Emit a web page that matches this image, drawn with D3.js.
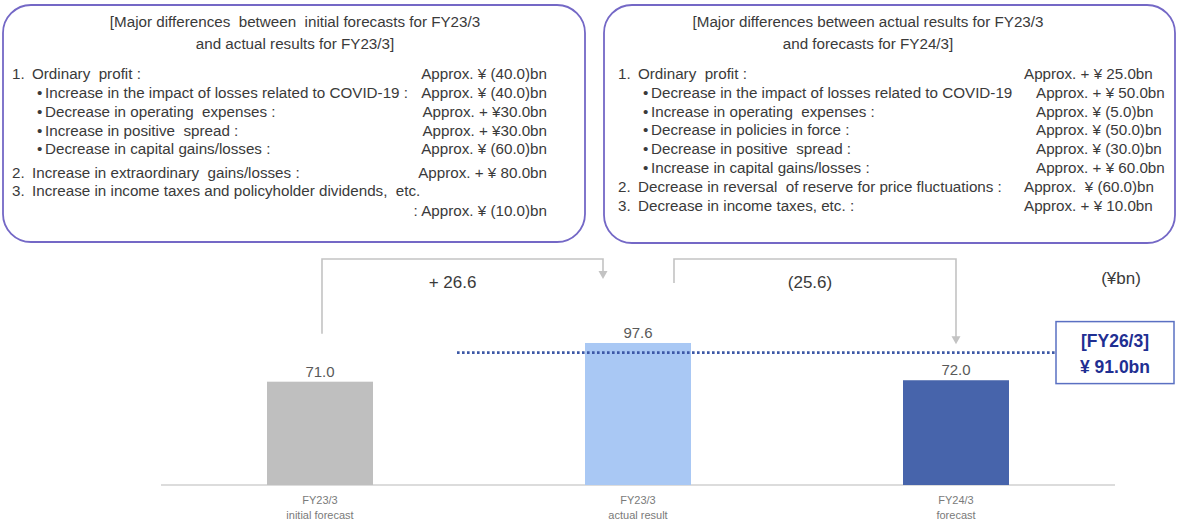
<!DOCTYPE html>
<html>
<head>
<meta charset="utf-8">
<script src="https://cdn.jsdelivr.net/npm/d3@7"></script>
<style>
  html, body { margin: 0; padding: 0; background: #ffffff; }
  svg { display: block; font-family: Arial, "Liberation Sans", sans-serif; }
</style>
</head>
<body>
<svg id="chart" width="1178" height="521"></svg>
<script>
// ---- Data ----
const categoryYears = ["FY23/3", "FY23/3", "FY24/3"];
const categoryNotes = ["initial forecast", "actual result", "forecast"];
const profitValues = [71.0, 97.6, 72.0];
const changeLabels = ["+ 26.6", "(25.6)"];
const unitLabel = "(¥bn)";
const targetValue = 91.0;
const targetLabels = ["[FY26/3]", "¥ 91.0bn"];

const leftTitle = [
  "[Major differences  between  initial forecasts for FY23/3",
  "and actual results for FY23/3]"
];
const leftKinds = ["num", "bullet", "bullet", "bullet", "bullet", "num", "num", "cont"];
const leftMarks = ["1.", "•", "•", "•", "•", "2.", "3.", ""];
const leftLabels = [
  "Ordinary  profit :",
  "Increase in the impact of losses related to COVID-19 :",
  "Decrease in operating  expenses :",
  "Increase in positive  spread :",
  "Decrease in capital gains/losses :",
  "Increase in extraordinary  gains/losses :",
  "Increase in income taxes and policyholder dividends,  etc.",
  ""
];
const leftAmounts = [
  "Approx. ¥ (40.0)bn",
  "Approx. ¥ (40.0)bn",
  "Approx. + ¥30.0bn",
  "Approx. + ¥30.0bn",
  "Approx. ¥ (60.0)bn",
  "Approx. + ¥ 80.0bn",
  "",
  ": Approx. ¥ (10.0)bn"
];

const rightTitle = [
  "[Major differences between actual results for FY23/3",
  "and forecasts for FY24/3]"
];
const rightKinds = ["num", "bullet", "bullet", "bullet", "bullet", "bullet", "num", "num"];
const rightMarks = ["1.", "•", "•", "•", "•", "•", "2.", "3."];
const rightLabels = [
  "Ordinary  profit :",
  "Decrease in the impact of losses related to COVID-19",
  "Increase in operating  expenses :",
  "Decrease in policies in force :",
  "Decrease in positive  spread :",
  "Increase in capital gains/losses :",
  "Decrease in reversal  of reserve for price fluctuations :",
  "Decrease in income taxes, etc. :"
];
const rightAmounts = [
  "Approx. + ¥ 25.0bn",
  "Approx. + ¥ 50.0bn",
  "Approx. ¥ (5.0)bn",
  "Approx. ¥ (50.0)bn",
  "Approx. ¥ (30.0)bn",
  "Approx. + ¥ 60.0bn",
  "Approx.  ¥ (60.0)bn",
  "Approx. + ¥ 10.0bn"
];

// ---- Styles ----
const textColor = "#3a3a3a";
const boxStroke = "#7468c6";
const barColors = ["#bfbfbf", "#a9c8f4", "#4764ab"];
const bracketColor = "#c3c3c3";
const targetColor = "#3d58a6";
const panelFont = 15.2;

const svg = d3.select("#chart");

// ---- Explanation panels ----
function drawPanel(cfg) {
  const g = svg.append("g");
  g.append("rect")
    .attr("x", cfg.x).attr("y", cfg.y)
    .attr("width", cfg.w).attr("height", cfg.h)
    .attr("rx", 28).attr("ry", 28)
    .attr("fill", "#ffffff")
    .attr("stroke", boxStroke)
    .attr("stroke-width", 1.8);

  g.selectAll("text.title")
    .data(cfg.title)
    .join("text")
    .attr("class", "title")
    .attr("x", cfg.titleX)
    .attr("y", (d, i) => cfg.titleY + i * 22)
    .attr("text-anchor", "middle")
    .attr("font-size", panelFont)
    .attr("fill", textColor)
    .style("white-space", "pre")
    .text(d => d);

  const rows = cfg.labels.map((label, i) => ({
    kind: cfg.kinds[i], mark: cfg.marks[i], label, amount: cfg.amounts[i], y: cfg.rowY[i]
  }));

  const row = g.selectAll("g.row").data(rows).join("g").attr("class", "row");

  row.append("text")
    .attr("x", d => d.kind === "num" ? cfg.textX : cfg.textX + 25)
    .attr("y", d => d.y + 5)
    .attr("font-size", panelFont)
    .attr("fill", textColor)
    .text(d => d.mark);

  row.append("text")
    .attr("x", d => d.kind === "num" ? cfg.textX + 20 : cfg.textX + 33)
    .attr("y", d => d.y + 5)
    .attr("font-size", panelFont)
    .attr("fill", textColor)
    .style("white-space", "pre")
    .text(d => d.label);

  row.append("text")
    .attr("x", d => cfg.amountX(d.kind))
    .attr("y", d => d.y + 5)
    .attr("text-anchor", cfg.amountAnchor)
    .attr("font-size", panelFont)
    .attr("fill", textColor)
    .style("white-space", "pre")
    .text(d => d.amount);
}

drawPanel({
  x: 3, y: 5, w: 582, h: 237,
  titleX: 295, titleY: 27,
  textX: 12,
  rowY: [74, 92.7, 111.7, 130.7, 149.3, 172.7, 190.7, 211],
  title: leftTitle, kinds: leftKinds, marks: leftMarks, labels: leftLabels, amounts: leftAmounts,
  amountAnchor: "end",
  amountX: () => 547
});

drawPanel({
  x: 604, y: 5, w: 571, h: 238,
  titleX: 868, titleY: 27,
  textX: 618,
  rowY: [74, 92.5, 111.5, 130, 148.5, 167.5, 187, 206],
  title: rightTitle, kinds: rightKinds, marks: rightMarks, labels: rightLabels, amounts: rightAmounts,
  amountAnchor: "start",
  amountX: k => k === "num" ? 1024 : 1036
});

// ---- Bar chart ----
const x = d3.scaleBand()
  .domain(d3.range(profitValues.length))
  .range([161, 1115])
  .paddingInner(2 / 3)
  .paddingOuter(1 / 3);

const y = d3.scaleLinear().domain([0, 100]).range([485, 339.5]);
const cx = i => x(i) + x.bandwidth() / 2;

const chart = svg.append("g");

// Baseline
chart.append("line")
  .attr("x1", x.range()[0]).attr("x2", x.range()[1])
  .attr("y1", y(0)).attr("y2", y(0))
  .attr("stroke", "#dcdcdc").attr("stroke-width", 2);

// Bars
chart.selectAll("rect.bar")
  .data(profitValues)
  .join("rect")
  .attr("class", "bar")
  .attr("x", (d, i) => x(i))
  .attr("y", d => y(d))
  .attr("width", x.bandwidth())
  .attr("height", d => y(0) - y(d))
  .attr("fill", (d, i) => barColors[i]);

// Value labels
chart.selectAll("text.value")
  .data(profitValues)
  .join("text")
  .attr("class", "value")
  .attr("x", (d, i) => cx(i))
  .attr("y", d => y(d) - 5)
  .attr("text-anchor", "middle")
  .attr("font-size", 15)
  .attr("fill", "#595959")
  .text(d => d.toFixed(1));

// Category labels
chart.selectAll("text.catYear")
  .data(categoryYears)
  .join("text")
  .attr("class", "catYear")
  .attr("x", (d, i) => cx(i))
  .attr("y", 504)
  .attr("text-anchor", "middle")
  .attr("font-size", 11)
  .attr("fill", "#7a7a7a")
  .text(d => d);

chart.selectAll("text.catNote")
  .data(categoryNotes)
  .join("text")
  .attr("class", "catNote")
  .attr("x", (d, i) => cx(i))
  .attr("y", 519)
  .attr("text-anchor", "middle")
  .attr("font-size", 11)
  .attr("fill", "#7a7a7a")
  .text(d => d);

// Target line for FY26/3
const targetY = y(targetValue);
chart.append("line")
  .attr("x1", 457).attr("x2", 1056)
  .attr("y1", targetY).attr("y2", targetY)
  .attr("stroke", targetColor)
  .attr("stroke-width", 2.6)
  .attr("stroke-dasharray", "2.6 2.4");

const tBox = chart.append("g");
tBox.append("rect")
  .attr("x", 1056).attr("y", targetY - 31)
  .attr("width", 118).attr("height", 62)
  .attr("fill", "#ffffff")
  .attr("stroke", "#5a70c2")
  .attr("stroke-width", 1.5);
tBox.selectAll("text")
  .data(targetLabels)
  .join("text")
  .attr("x", 1115)
  .attr("y", (d, i) => targetY - 6 + i * 26)
  .attr("text-anchor", "middle")
  .attr("font-size", 17.5)
  .attr("font-weight", "bold")
  .attr("fill", "#1f2f92")
  .text(d => d);

// Change brackets between bars
const brackets = [
  { x1: cx(0) + 2, y1: y(profitValues[0]) - 48, x2: cx(1) - 35, tip: 279, label: changeLabels[0], lx: -10 },
  { x1: cx(1) + 36, y1: 283, x2: cx(2), tip: y(profitValues[2]) - 36, label: changeLabels[1], lx: -5 }
];
const topY = 259;

brackets.forEach(b => {
  chart.append("path")
    .attr("d", `M${b.x1},${b.y1}V${topY}H${b.x2}V${b.tip - 7}`)
    .attr("fill", "none")
    .attr("stroke", bracketColor)
    .attr("stroke-width", 1.6);
  chart.append("path")
    .attr("d", `M${b.x2 - 4.5},${b.tip - 8}L${b.x2 + 4.5},${b.tip - 8}L${b.x2},${b.tip}Z`)
    .attr("fill", bracketColor);
  chart.append("text")
    .attr("x", (b.x1 + b.x2) / 2 + b.lx)
    .attr("y", 288)
    .attr("text-anchor", "middle")
    .attr("font-size", 17)
    .attr("fill", textColor)
    .text(b.label);
});

// Unit label
chart.append("text")
  .attr("x", 1121).attr("y", 284)
  .attr("text-anchor", "middle")
  .attr("font-size", 17)
  .attr("fill", textColor)
  .text(unitLabel);
</script>
</body>
</html>
